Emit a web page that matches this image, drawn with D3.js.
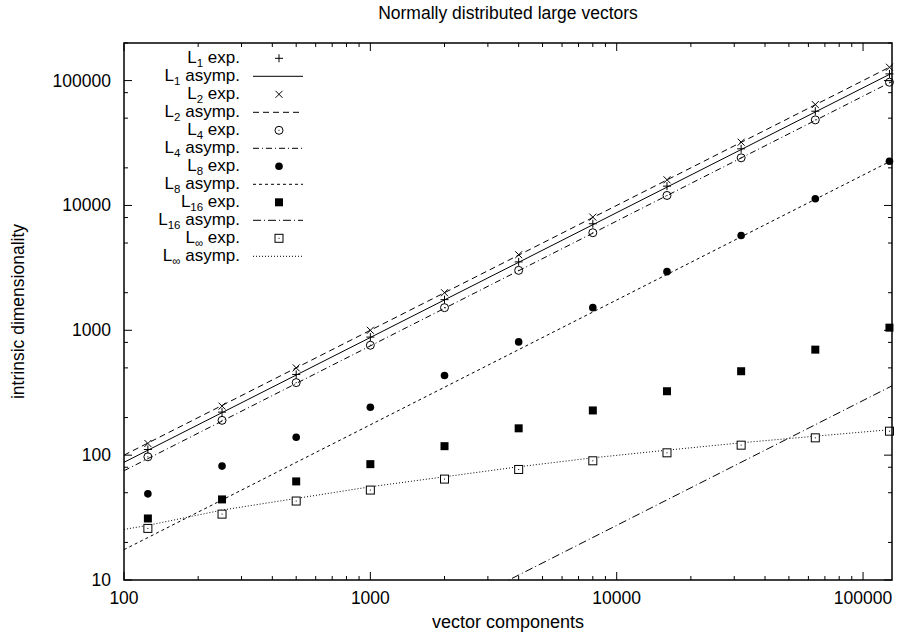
<html>
<head>
  <style>
    body { margin: 0; background: white; }
    svg text {
      font-family: "Liberation Sans", Arial, Helvetica, sans-serif;
      font-size: 17.5px;
      fill: black;
    }
    svg .legend text {
      font-size: 17px;
    }
    svg .border {
      fill: none;
      stroke: black;
      stroke-width: 1.5px;
    }
    svg .tick-line {
      stroke: black;
      stroke-width: 1px;
    }
    svg .curve {
      fill: none;
      stroke: black;
      stroke-width: 1px;
    }
  </style>
</head>

<body>
  <div id="chart"></div>
  <script src="https://d3js.org/d3.v7.min.js"></script>
  <script>
// ---- data ----
var nExp    = [125, 250, 500, 1000, 2000, 4000, 8000, 16000, 32000, 64000, 128000];
var l1Exp   = [111, 221, 443, 882, 1760, 3530, 7130, 14280, 28400, 56850, 113100];
var l2Exp   = [124, 247, 500, 1000, 2000, 4030, 8065, 16050, 32100, 64270, 127900];
var l4Exp   = [97, 190, 381, 759, 1518, 3020, 6048, 12020, 24070, 48450, 97000];
var l8Exp   = [49, 81.7, 139, 242, 434, 807, 1518, 2950, 5750, 11300, 22600];
var l16Exp  = [31.1, 44.2, 61.6, 84.7, 118, 164, 228, 325, 470, 700, 1050];
var lInfExp = [25.9, 33.7, 42.9, 52.5, 64.3, 76.8, 90.1, 104.4, 120.2, 137.6, 155.6];

var asympN   = [100, 131072];
var l1Asymp  = [87.6, 114800];
var l2Asymp  = [100, 131072];
var l4Asymp  = [75, 98300];
var l8Asymp  = [17.5, 22940];
var l16Asymp = [0.274, 359];

var infN      = [100, 125, 250, 500, 1000, 2000, 4000, 8000, 16000, 32000, 64000, 131072];
var lInfAsymp = [25.4, 27.4, 36.3, 45.0, 55.8, 67.1, 80.7, 95.2, 109.6, 125.6, 141.9, 160.5];

var xTicks = [100, 1000, 10000, 100000];
var yTicks = [10, 100, 1000, 10000, 100000];
var xMinor = [2, 3, 4, 5, 6, 7, 8, 9];
var yMinor = [2, 5, 8];

var titleText = "Normally distributed large vectors";
var xLabel = "vector components";
var yLabel = "intrinsic dimensionality";

(function () {
  var W = 898, H = 635;
  var left = 124, right = 892, top = 43, bottom = 580;

  var svg = d3.select("#chart").append("svg")
      .attr("width", W)
      .attr("height", H);

  var xScale = d3.scaleLog().domain([100, 131072]).range([left, right]);
  var yScale = d3.scaleLog().domain([10, 200000]).range([bottom, top]);

  svg.append("clipPath").attr("id", "plotclip")
    .append("rect")
      .attr("x", left).attr("y", top)
      .attr("width", right - left).attr("height", bottom - top);

  // ticks (both sides, pointing inward)
  var ticks = svg.append("g");
  var xAll = [];
  xTicks.forEach(function (d) {
    xAll.push({ v: d, major: true });
    xMinor.forEach(function (m) { xAll.push({ v: d * m, major: false }); });
  });
  xAll = xAll.filter(function (t) { return t.v >= 100 && t.v <= 131072; });
  xAll.forEach(function (t) {
    var len = t.major ? 8 : 4;
    var x = xScale(t.v);
    ticks.append("line").classed("tick-line", true)
      .attr("x1", x).attr("x2", x).attr("y1", bottom).attr("y2", bottom - len);
    ticks.append("line").classed("tick-line", true)
      .attr("x1", x).attr("x2", x).attr("y1", top).attr("y2", top + len);
  });

  var yAll = [];
  yTicks.forEach(function (d) {
    yAll.push({ v: d, major: true });
    yMinor.forEach(function (m) { yAll.push({ v: d * m, major: false }); });
  });
  yAll = yAll.filter(function (t) { return t.v >= 10 && t.v <= 200000; });
  yAll.forEach(function (t) {
    var len = t.major ? 8 : 4;
    var y = yScale(t.v);
    ticks.append("line").classed("tick-line", true)
      .attr("x1", left).attr("x2", left + len).attr("y1", y).attr("y2", y);
    ticks.append("line").classed("tick-line", true)
      .attr("x1", right).attr("x2", right - len).attr("y1", y).attr("y2", y);
  });

  // tick labels
  svg.selectAll("text.xtick").data(xTicks).enter().append("text")
      .attr("x", function (d) { return xScale(d); })
      .attr("y", 604)
      .style("text-anchor", "middle")
      .text(function (d) { return d; });

  svg.selectAll("text.ytick").data(yTicks).enter().append("text")
      .attr("x", 111)
      .attr("y", function (d) { return yScale(d) + 6; })
      .style("text-anchor", "end")
      .text(function (d) { return d; });

  // titles
  svg.append("text").attr("x", (left + right) / 2).attr("y", 19)
      .style("text-anchor", "middle").text(titleText);
  svg.append("text").attr("x", (left + right) / 2).attr("y", 628)
      .style("text-anchor", "middle").style("font-size", "18px").text(xLabel);
  svg.append("text")
      .attr("transform", "translate(24," + ((top + bottom) / 2) + ") rotate(-90)")
      .style("text-anchor", "middle").text(yLabel);

  // line styles (gnuplot mono)
  var dashes = {
    solid: null,
    dash: "6,4",
    dashdot: "6,3,1,3",
    shortdash: "3,3",
    dashdot2: "8,3,1,3",
    dot: "1,2"
  };

  var line = d3.line()
    .x(function (d) { return xScale(d[0]); })
    .y(function (d) { return yScale(d[1]); });

  var plot = svg.append("g").attr("clip-path", "url(#plotclip)");

  function curve(xs, ys, dash) {
    plot.append("path").classed("curve", true)
      .attr("d", line(d3.zip(xs, ys)))
      .style("stroke-dasharray", dash);
  }

  // point symbols
  function symbol(g, type, x, y) {
    if (type === "plus") {
      g.append("path").attr("d", "M" + (x - 4) + "," + y + "H" + (x + 4) + "M" + x + "," + (y - 4) + "V" + (y + 4))
        .style("stroke", "black").style("stroke-width", 1).style("fill", "none");
    } else if (type === "cross") {
      g.append("path").attr("d", "M" + (x - 3.5) + "," + (y - 3.5) + "L" + (x + 3.5) + "," + (y + 3.5) +
          "M" + (x - 3.5) + "," + (y + 3.5) + "L" + (x + 3.5) + "," + (y - 3.5))
        .style("stroke", "black").style("stroke-width", 1).style("fill", "none");
    } else if (type === "circle") {
      g.append("circle").attr("cx", x).attr("cy", y).attr("r", 4)
        .style("stroke", "black").style("stroke-width", 1).style("fill", "none");
      g.append("rect").attr("x", x - 0.5).attr("y", y - 0.5).attr("width", 1).attr("height", 1).style("fill", "black");
    } else if (type === "disc") {
      g.append("circle").attr("cx", x).attr("cy", y).attr("r", 3.8).style("fill", "black");
    } else if (type === "box") {
      g.append("rect").attr("x", x - 4).attr("y", y - 4).attr("width", 8).attr("height", 8).style("fill", "black");
    } else if (type === "openbox") {
      g.append("rect").attr("x", x - 4).attr("y", y - 4).attr("width", 8).attr("height", 8)
        .style("stroke", "black").style("stroke-width", 1).style("fill", "white");
      g.append("rect").attr("x", x - 0.5).attr("y", y - 0.5).attr("width", 1).attr("height", 1).style("fill", "black");
    }
  }

  function points(ys, type) {
    var g = svg.append("g");
    nExp.forEach(function (n, i) { symbol(g, type, xScale(n), yScale(ys[i])); });
  }

  curve(asympN, l1Asymp, dashes.solid);
  curve(asympN, l2Asymp, dashes.dash);
  curve(asympN, l4Asymp, dashes.dashdot);
  curve(asympN, l8Asymp, dashes.shortdash);
  curve(asympN, l16Asymp, dashes.dashdot2);
  curve(infN, lInfAsymp, dashes.dot);

  points(l1Exp, "plus");
  points(l2Exp, "cross");
  points(l4Exp, "circle");
  points(l8Exp, "disc");
  points(l16Exp, "box");
  points(lInfExp, "openbox");

  // legend
  var legend = [
    { sub: "1",  kind: "exp.",   sym: "plus" },
    { sub: "1",  kind: "asymp.", dash: dashes.solid },
    { sub: "2",  kind: "exp.",   sym: "cross" },
    { sub: "2",  kind: "asymp.", dash: dashes.dash },
    { sub: "4",  kind: "exp.",   sym: "circle" },
    { sub: "4",  kind: "asymp.", dash: dashes.dashdot },
    { sub: "8",  kind: "exp.",   sym: "disc" },
    { sub: "8",  kind: "asymp.", dash: dashes.shortdash },
    { sub: "16", kind: "exp.",   sym: "box" },
    { sub: "16", kind: "asymp.", dash: dashes.dashdot2 },
    { sub: "\u221e", kind: "exp.",   sym: "openbox" },
    { sub: "\u221e", kind: "asymp.", dash: dashes.dot }
  ];
  var lg = svg.append("g").classed("legend", true);
  legend.forEach(function (e, i) {
    var y = 58.3 + i * 18;
    var t = lg.append("text").attr("x", 240).attr("y", y + 5).style("text-anchor", "end");
    t.append("tspan").text("L");
    t.append("tspan").attr("dy", 4).style("font-size", "11.5px").text(e.sub);
    t.append("tspan").attr("dy", -4).text(" " + e.kind);
    if (e.sym) {
      symbol(lg, e.sym, 279, y);
    } else {
      lg.append("line").classed("curve", true)
        .attr("x1", 253).attr("x2", 303).attr("y1", y).attr("y2", y)
        .style("stroke-dasharray", e.dash);
    }
  });

  // border
  svg.append("rect").classed("border", true)
    .attr("x", left).attr("y", top)
    .attr("width", right - left).attr("height", bottom - top);
})();
  </script>
</body>
</html>
